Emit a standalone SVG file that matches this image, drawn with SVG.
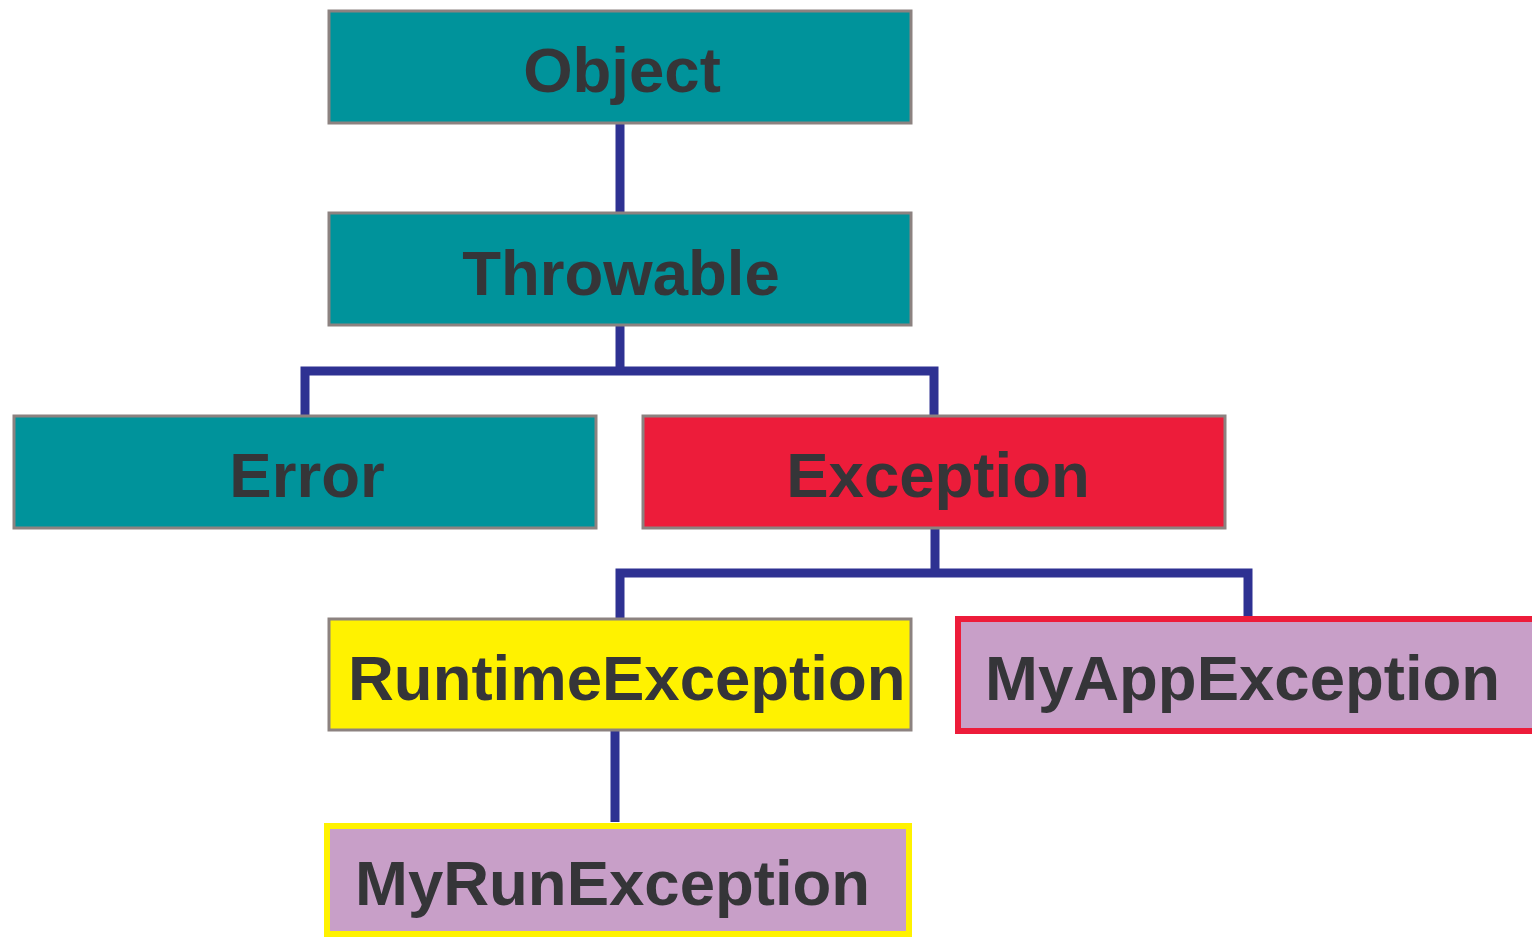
<svg xmlns="http://www.w3.org/2000/svg" width="1532" height="937" viewBox="0 0 1532 937">
  <style>
    .box { stroke: #8c8280; stroke-width: 3; }
    .teal { fill: #00939b; }
    .red { fill: #ed1c3a; }
    .yellow { fill: #fff200; }
    .purple { fill: #c89fc8; }
    .label { font-family: "Liberation Sans", Arial, sans-serif; font-weight: bold; font-size: 63.5px; fill: #353538; }
    .mid { text-anchor: middle; }
    .link { stroke: #2e3192; stroke-width: 9; fill: none; stroke-linecap: butt; stroke-linejoin: miter; }
  </style>
  <rect width="1532" height="937" fill="#ffffff"/>

  <!-- connectors -->
  <g id="connectors">
    <line class="link" x1="620" y1="123" x2="620" y2="213"/>
    <path class="link" d="M305 415 V371 H934 V415"/>
    <line class="link" x1="620" y1="325" x2="620" y2="371"/>
    <path class="link" d="M620 618 V573 H1248 V616"/>
    <line class="link" x1="935" y1="528" x2="935" y2="573"/>
    <line class="link" x1="615" y1="731" x2="615" y2="822"/>
  </g>

  <g id="object">
    <rect class="box teal" x="329" y="11" width="582" height="112"/>
    <text class="label mid" x="622" y="92">Object</text>
  </g>

  <g id="throwable">
    <rect class="box teal" x="329" y="213" width="582" height="112"/>
    <text class="label mid" x="621" y="295">Throwable</text>
  </g>

  <g id="error">
    <rect class="box teal" x="14" y="416" width="582" height="112"/>
    <text class="label mid" x="307" y="497">Error</text>
  </g>

  <g id="exception">
    <rect class="box red" x="643" y="416" width="582" height="112"/>
    <text class="label mid" x="938" y="497">Exception</text>
  </g>

  <g id="runtime-exception">
    <rect class="box yellow" x="329" y="619" width="582" height="111"/>
    <text class="label" x="348" y="700">RuntimeException</text>
  </g>

  <g id="my-app-exception">
    <rect class="purple" x="958" y="619" width="580" height="112" stroke="#ed1c3a" stroke-width="6"/>
    <text class="label" x="985" y="700">MyAppException</text>
  </g>

  <g id="my-run-exception">
    <rect class="purple" x="327" y="826" width="582" height="108" stroke="#fff200" stroke-width="6"/>
    <text class="label" x="355" y="905">MyRunException</text>
  </g>
</svg>
